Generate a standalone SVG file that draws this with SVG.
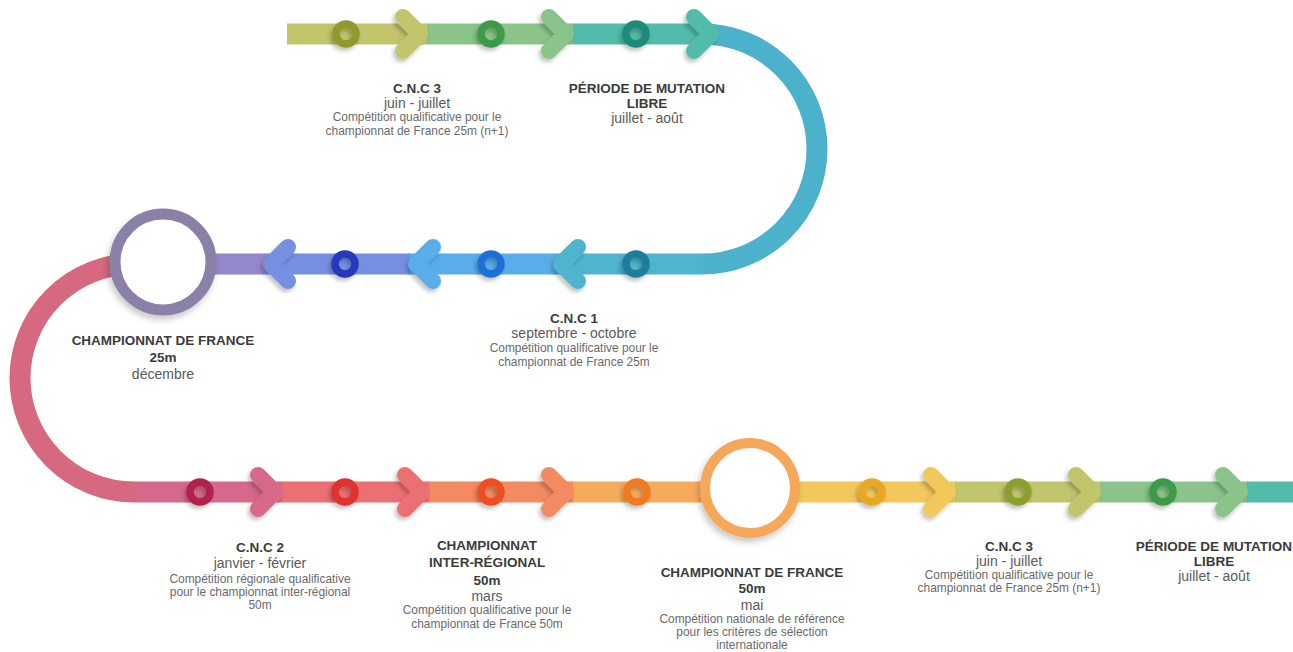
<svg xmlns="http://www.w3.org/2000/svg" width="1293" height="652" viewBox="0 0 1293 652">
<defs>
<style>
text{font-family:"Liberation Sans",Arial,sans-serif;text-anchor:middle}
.t{font-weight:bold;font-size:13.5px;fill:#3b3b3b}
.s{font-size:14px;fill:#5a5a5a}
.d{font-size:11.9px;fill:#6a6a6a}
.band{fill:none;stroke-width:21}
.chev{fill:none;stroke-width:16;stroke-linecap:round;stroke-linejoin:round}
.ring{fill:none;stroke-width:7.5}
.big{fill:#fff}
</style>
<filter id="sh" x="-50%" y="-50%" width="200%" height="200%">
<feDropShadow dx="-2" dy="3" stdDeviation="2" flood-color="#000" flood-opacity="0.25"/>
</filter>
<filter id="shb" x="-30%" y="-30%" width="160%" height="160%">
<feDropShadow dx="-2" dy="4" stdDeviation="3" flood-color="#000" flood-opacity="0.22"/>
</filter>
</defs>
<rect width="1293" height="652" fill="#fff"/>

<g id="connectors">
<path class="band" d="M702,34 A115,115 0 0 1 702,264" stroke="#4CB2CB"/>
<path class="band" d="M163,264 L134,264 A114,114 0 0 0 134,492" stroke="#D6687F"/>
<path class="band" d="M287,34 H428" stroke="#C2C56C"/>
<path class="band" d="M427,34 H574" stroke="#8AC48A"/>
<path class="band" d="M573,34 H703" stroke="#52BBA9"/>
<path class="band" d="M703,264 H553" stroke="#4FB4CD"/>
<path class="band" d="M555,264 H408" stroke="#5AADE8"/>
<path class="band" d="M410,264 H263" stroke="#7590E0"/>
<path class="band" d="M265,264 H163" stroke="#9487CB"/>
<path class="band" d="M134,492 H283" stroke="#D6698A"/>
<path class="band" d="M282,492 H430" stroke="#EC6F71"/>
<path class="band" d="M429,492 H574" stroke="#F38A62"/>
<path class="band" d="M573,492 H751" stroke="#F5AA5C"/>
<path class="band" d="M750,492 H956" stroke="#F2C75B"/>
<path class="band" d="M955,492 H1101" stroke="#C2C56C"/>
<path class="band" d="M1100,492 H1248" stroke="#8AC48A"/>
<path class="band" d="M1247,492 H1293" stroke="#52BBA9"/>
<g filter="url(#sh)">
<polyline class="chev" points="403,17 420,34 403,51" stroke="#C2C56C"/>
<polyline class="chev" points="549,17 566,34 549,51" stroke="#8AC48A"/>
<polyline class="chev" points="694,17 711,34 694,51" stroke="#52BBA9"/>
<polyline class="chev" points="578,247 561,264 578,281" stroke="#4FB4CD"/>
<polyline class="chev" points="433,247 416,264 433,281" stroke="#5AADE8"/>
<polyline class="chev" points="288,247 271,264 288,281" stroke="#7590E0"/>
<polyline class="chev" points="258,475 275,492 258,509" stroke="#D6698A"/>
<polyline class="chev" points="405,475 422,492 405,509" stroke="#EC6F71"/>
<polyline class="chev" points="549,475 566,492 549,509" stroke="#F38A62"/>
<polyline class="chev" points="931,475 948,492 931,509" stroke="#F2C75B"/>
<polyline class="chev" points="1076,475 1093,492 1076,509" stroke="#C2C56C"/>
<polyline class="chev" points="1223,475 1240,492 1223,509" stroke="#8AC48A"/>
</g>
</g>

<g id="cnc3-top">
<circle class="ring" cx="346" cy="34" r="10" stroke="#8E9A2A" filter="url(#sh)"/>
<text class="t" x="417" y="93">C.N.C 3</text>
<text class="s" x="417" y="108">juin - juillet</text>
<text class="d" x="417" y="121">Compétition qualificative pour le</text>
<text class="d" x="417" y="135">championnat de France 25m (n+1)</text>
</g>
<g id="ring-top-2">
<circle class="ring" cx="491" cy="34" r="10" stroke="#3C9A48" filter="url(#sh)"/>
</g>
<g id="mutation-top">
<circle class="ring" cx="636" cy="34" r="10" stroke="#1A8B7A" filter="url(#sh)"/>
<text class="t" x="647" y="93">PÉRIODE DE MUTATION</text>
<text class="t" x="647" y="108">LIBRE</text>
<text class="s" x="647" y="123">juillet - août</text>
</g>

<g id="cnc1">
<circle class="ring" cx="636" cy="264" r="10" stroke="#1C7E9A" filter="url(#sh)"/>
<text class="t" x="574" y="323">C.N.C 1</text>
<text class="s" x="574" y="338">septembre - octobre</text>
<text class="d" x="574" y="352">Compétition qualificative pour le</text>
<text class="d" x="574" y="366">championnat de France 25m</text>
</g>
<g id="ring-mid-2">
<circle class="ring" cx="491" cy="264" r="10" stroke="#1F6FD6" filter="url(#sh)"/>
</g>
<g id="ring-mid-3">
<circle class="ring" cx="345" cy="264" r="10" stroke="#2537BE" filter="url(#sh)"/>
</g>

<g id="cf25">
<circle class="big" cx="163" cy="262" r="48" stroke="#8A80A8" stroke-width="11" filter="url(#shb)"/>
<text class="t" x="163" y="345">CHAMPIONNAT DE FRANCE</text>
<text class="t" x="163" y="362">25m</text>
<text class="s" x="163" y="379">décembre</text>
</g>

<g id="cnc2">
<circle class="ring" cx="200" cy="492" r="10" stroke="#B0224E" filter="url(#sh)"/>
<text class="t" x="260" y="552">C.N.C 2</text>
<text class="s" x="260" y="568">janvier - février</text>
<text class="d" x="260" y="583">Compétition régionale qualificative</text>
<text class="d" x="260" y="596">pour le championnat inter-régional</text>
<text class="d" x="260" y="609">50m</text>
</g>
<g id="ring-bot-2">
<circle class="ring" cx="345" cy="492" r="10" stroke="#E0302E" filter="url(#sh)"/>
</g>
<g id="interregional">
<circle class="ring" cx="491" cy="492" r="10" stroke="#EE5020" filter="url(#sh)"/>
<text class="t" x="487" y="550">CHAMPIONNAT</text>
<text class="t" x="487" y="567">INTER-RÉGIONAL</text>
<text class="t" x="487" y="585">50m</text>
<text class="s" x="487" y="601">mars</text>
<text class="d" x="487" y="614">Compétition qualificative pour le</text>
<text class="d" x="487" y="628">championnat de France 50m</text>
</g>
<g id="ring-bot-4">
<circle class="ring" cx="637" cy="492" r="10" stroke="#F07A22" filter="url(#sh)"/>
</g>

<g id="cf50">
<circle class="big" cx="750" cy="488" r="45" stroke="#F5A85A" stroke-width="10" filter="url(#shb)"/>
<text class="t" x="752" y="577">CHAMPIONNAT DE FRANCE</text>
<text class="t" x="752" y="593">50m</text>
<text class="s" x="752" y="610">mai</text>
<text class="d" x="752" y="623">Compétition nationale de référence</text>
<text class="d" x="752" y="636">pour les critères de sélection</text>
<text class="d" x="752" y="649">internationale</text>
</g>

<g id="ring-bot-5">
<circle class="ring" cx="872" cy="492" r="10" stroke="#E8A825" filter="url(#sh)"/>
</g>
<g id="cnc3-bottom">
<circle class="ring" cx="1018" cy="492" r="10" stroke="#8E9E2E" filter="url(#sh)"/>
<text class="t" x="1009" y="551">C.N.C 3</text>
<text class="s" x="1009" y="566">juin - juillet</text>
<text class="d" x="1009" y="579">Compétition qualificative pour le</text>
<text class="d" x="1009" y="592">championnat de France 25m (n+1)</text>
</g>
<g id="mutation-bottom">
<circle class="ring" cx="1163" cy="492" r="10" stroke="#3E9A45" filter="url(#sh)"/>
<text class="t" x="1214" y="551">PÉRIODE DE MUTATION</text>
<text class="t" x="1214" y="566">LIBRE</text>
<text class="s" x="1214" y="581">juillet - août</text>
</g>
</svg>
